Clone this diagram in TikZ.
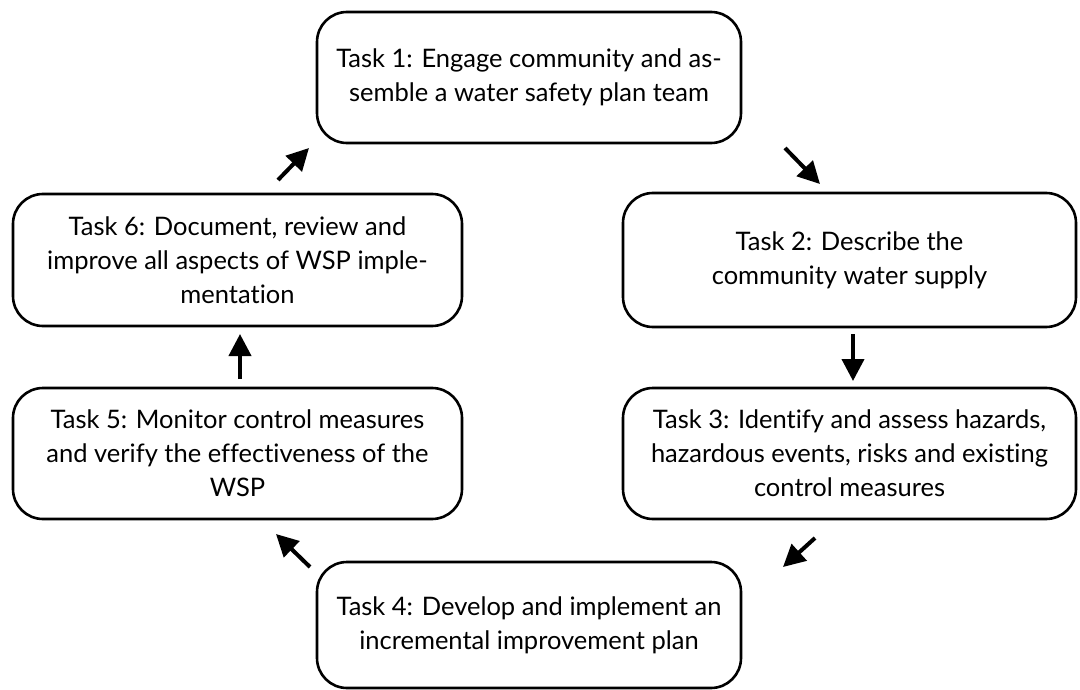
\documentclass[tikz,border=0pt]{standalone}
\usepackage{fontspec}
\setmainfont{Lato}[Ligatures={NoCommon,NoRare,NoContextual}]
\usetikzlibrary{arrows.meta}
\begin{document}
\begin{tikzpicture}[x=1pt,y=-1pt,
  taskbox/.style={draw=black, line width=2.6pt, rounded corners=30pt, fill=white,
    align=center, inner sep=0pt, font=\fontsize{25.5}{34}\selectfont},
  flow/.style={line width=4pt, -{Triangle[length=22pt,width=22pt]}}]
  \useasboundingbox (0,0) rectangle (1080,690);
  % the six tasks of the cycle
  \node[taskbox, minimum width=424pt, minimum height=131pt] (t1) at (529,77.5)
    {Task 1: Engage community and as-\\semble a water safety plan team};
  \node[taskbox, minimum width=453pt, minimum height=134pt] (t2) at (849.5,260)
    {Task 2: Describe the\\community water supply};
  \node[taskbox, minimum width=453pt, minimum height=131pt] (t3) at (849.5,453.5)
    {Task 3: Identify and assess hazards,\\hazardous events, risks and existing\\control measures};
  \node[taskbox, minimum width=424pt, minimum height=126pt] (t4) at (529,625)
    {Task 4: Develop and implement an\\incremental improvement plan};
  \node[taskbox, minimum width=449pt, minimum height=131pt] (t5) at (237.5,453.5)
    {Task 5: Monitor control measures\\and verify the effectiveness of the\\WSP};
  \node[taskbox, minimum width=449pt, minimum height=132pt] (t6) at (237.5,260)
    {Task 6: Document, review and\\improve all aspects of WSP imple-\\mentation};
  % arrow end points between the boxes
  \coordinate (a1s) at (785,148); \coordinate (a1e) at (820,184);
  \coordinate (a2s) at (853,334); \coordinate (a2e) at (853,381);
  \coordinate (a3s) at (815,538); \coordinate (a3e) at (783,567);
  \coordinate (a4s) at (310,567); \coordinate (a4e) at (276,534);
  \coordinate (a5s) at (240,379); \coordinate (a5e) at (240,334);
  \coordinate (a6s) at (278,180); \coordinate (a6e) at (309,148);
  \draw[flow] (a1s) -- (a1e);
  \draw[flow] (a2s) -- (a2e);
  \draw[flow] (a3s) -- (a3e);
  \draw[flow] (a4s) -- (a4e);
  \draw[flow] (a5s) -- (a5e);
  \draw[flow] (a6s) -- (a6e);
\end{tikzpicture}
\end{document}
